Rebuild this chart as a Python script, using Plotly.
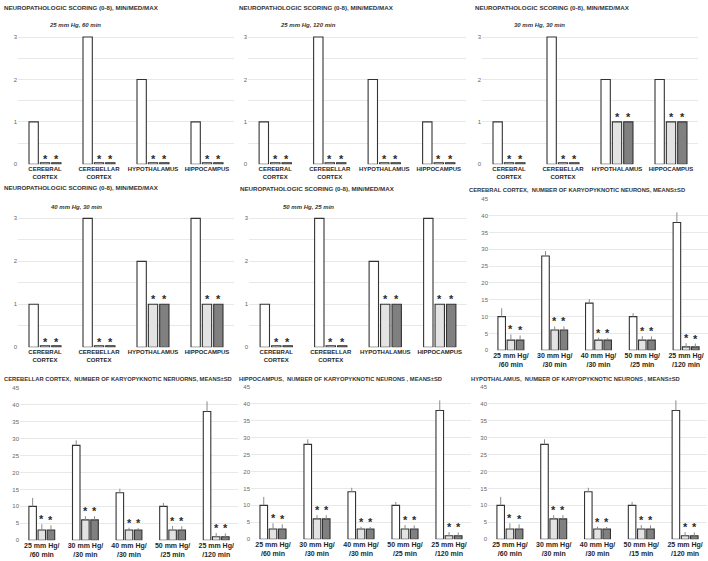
import plotly.graph_objects as go

W, H = 708, 561

# ---------------- data ----------------
NEURO_CATS = ["CEREBRAL<br>CORTEX", "CEREBELLAR<br>CORTEX", "HYPOTHALAMUS", "HIPPOCAMPUS"]

# Neuropathologic scoring medians (white = untreated, light = treated A, dark = treated B)
N1_WHITE = [1, 3, 2, 1]
N1_LIGHT = [0, 0, 0, 0]
N1_DARK = [0, 0, 0, 0]

N2_WHITE = [1, 3, 2, 1]
N2_LIGHT = [0, 0, 0, 0]
N2_DARK = [0, 0, 0, 0]

N3_WHITE = [1, 3, 2, 2]
N3_LIGHT = [0, 0, 1, 1]
N3_DARK = [0, 0, 1, 1]

N4_WHITE = [1, 3, 2, 3]
N4_LIGHT = [0, 0, 1, 1]
N4_DARK = [0, 0, 1, 1]

N5_WHITE = [1, 3, 2, 3]
N5_LIGHT = [0, 0, 1, 1]
N5_DARK = [0, 0, 1, 1]

NEURO_SUBTITLES = ["25 mm Hg, 60 min", "25 mm Hg, 120 min", "30 mm Hg, 30 min",
                   "40 mm Hg, 30 min", "50 mm Hg, 25 min"]

KARYO_CATS = ["25 mm Hg/<br>/60 min", "30 mm Hg/<br>/30 min", "40 mm Hg/<br>/30 min",
              "50 mm Hg/<br>/25 min", "25 mm Hg/<br>/120 min"]
KARYO_CATS_HYPO = ["25 mm Hg/<br>/60 min", "30 mm Hg/<br>/30 min", "40 mm Hg/<br>/30 min",
                   "50 mm Hg/<br>/15 min", "25 mm Hg/<br>/120 min"]

# Karyopyknotic neurons, means and SD (same in all four regions)
K_WHITE = [10, 28, 14, 10, 38]
K_WHITE_SD = [2.5, 1.5, 1.2, 1.0, 3.0]
K_LIGHT = [3, 6, 3, 3, 1]
K_LIGHT_SD = [1.7, 1.1, 0.7, 1.2, 1.1]
K_DARK = [3, 6, 3, 3, 1]
K_DARK_SD = [1.4, 1.1, 0.6, 1.1, 1.0]

TITLES = [
    "NEUROPATHOLOGIC SCORING (0-8), MIN/MED/MAX",
    "NEUROPATHOLOGIC SCORING (0-8), MIN/MED/MAX",
    "NEUROPATHOLOGIC SCORING (0-8), MIN/MED/MAX",
    "NEUROPATHOLOGIC SCORING (0-8), MIN/MED/MAX",
    "NEUROPATHOLOGIC SCORING (0-8), MIN/MED/MAX",
    "CEREBRAL CORTEX,\u00a0 NUMBER OF KARYOPYKNOTIC NEURONS, MEANS\u00b1SD",
    "CEREBELLAR CORTEX,\u00a0 NUMBER OF KARYOPYKNOTIC NERUORNS, MEANS\u00b1SD",
    "HIPPOCAMPUS,\u00a0 NUMBER OF KARYOPYKNOTIC NEURONS , MEANS\u00b1SD",
    "HYPOTHALAMUS,\u00a0 NUMBER OF KARYOPYKNOTIC NEURONS , MEANS\u00b1SD",
]

# ---------------- layout geometry (pixels) ----------------
PANELS = [  # x0, x1, y0(top), y1(bottom)
    (18, 234, 13, 163),
    (248, 466, 13, 163),
    (482, 698, 13, 163),
    (18, 234, 196, 348),
    (249, 467, 196, 348),
    (489, 708, 198, 351),
    (20, 238, 389, 543),
    (251, 471, 388, 542),
    (488, 707, 388, 542),
]
TITLE_POS = [(2, 5), (237, 5), (473, 5), (2, 187), (238, 188), (467, 189),
             (2, 380), (237, 380), (469, 380)]
SUB_POS = [(75, 22), (308, 22), (539, 22), (76, 206), (308, 206)]

BARGAP = 0.37
BARGROUPGAP = 0.18
ZERO_STUB = 0.035

FILL = ["#ffffff", "#e3e3e3", "#808080"]
EDGE = "#333333"
FONT = "Liberation Sans, Arial, sans-serif"

fig = go.Figure()
annotations = []

neuro_sets = [
    (N1_WHITE, N1_LIGHT, N1_DARK),
    (N2_WHITE, N2_LIGHT, N2_DARK),
    (N3_WHITE, N3_LIGHT, N3_DARK),
    (N4_WHITE, N4_LIGHT, N4_DARK),
    (N5_WHITE, N5_LIGHT, N5_DARK),
]
karyo_cats = [KARYO_CATS, KARYO_CATS, KARYO_CATS, KARYO_CATS_HYPO]

layout_axes = {}
for i, (x0, x1, y0, y1) in enumerate(PANELS):
    k = i + 1
    xs = "x" if k == 1 else f"x{k}"
    ys = "y" if k == 1 else f"y{k}"
    xa = "xaxis" if k == 1 else f"xaxis{k}"
    ya = "yaxis" if k == 1 else f"yaxis{k}"
    neuro = i < 5
    cats = NEURO_CATS if neuro else karyo_cats[i - 5]
    if neuro:
        series = neuro_sets[i]
        sds = [None, None, None]
    else:
        series = (K_WHITE, K_LIGHT, K_DARK)
        sds = [K_WHITE_SD, K_LIGHT_SD, K_DARK_SD]

    for s in range(3):
        vals = series[s]
        shown = [v if v > 0 else ZERO_STUB for v in vals]
        kw = {}
        if sds[s] is not None:
            kw["error_y"] = dict(type="data", array=sds[s], arrayminus=[0] * len(vals),
                                 symmetric=False, color="#8a8a8a", thickness=1, width=0)
        fig.add_trace(go.Bar(
            x=cats, y=shown, xaxis=xs, yaxis=ys, showlegend=False,
            marker=dict(color=FILL[s], line=dict(color=EDGE, width=1.1)),
            offsetgroup=str(s), hoverinfo="skip", **kw))

    # asterisks on treated groups
    cat_w = (x1 - x0) / len(cats)
    slot = cat_w * (1 - BARGAP) / 3
    for s in (1, 2):
        vals = series[s]
        for j, v in enumerate(vals):
            top = v + (sds[s][j] if sds[s] is not None else 0)
            annotations.append(dict(
                x=cats[j], y=top, xref=xs, yref=ys, text="*", showarrow=False,
                xshift=(s - 1) * slot, yshift=5, yanchor="middle",
                font=dict(family=FONT, size=11, color="#2a2a2a", weight="bold")))

    layout_axes[xa] = dict(
        domain=[x0 / W, x1 / W], anchor=ys, type="category", tickangle=0,
        showgrid=False, zeroline=False, showline=False, ticks="",
        tickfont=dict(family=FONT, size=6 if neuro else 7, color="#262626", weight="bold"),
        fixedrange=True)
    if neuro:
        ydict = dict(range=[0, 3.5], dtick=1, tick0=0,
                     minor=dict(dtick=0.5, tick0=0, showgrid=True, gridcolor="#e8e8e8", gridwidth=1))
    else:
        ydict = dict(range=[0, 45], dtick=5, tick0=0)
    layout_axes[ya] = dict(
        domain=[1 - y1 / H, 1 - y0 / H], anchor=xs, showgrid=True, gridcolor="#e8e8e8",
        gridwidth=1, zeroline=False, showline=False, ticks="",
        tickfont=dict(family=FONT, size=6, color="#666666"), fixedrange=True, **ydict)

    tx, ty = TITLE_POS[i]
    annotations.append(dict(
        x=tx / W, y=1 - ty / H, xref="paper", yref="paper", text=TITLES[i],
        showarrow=False, xanchor="left", yanchor="middle",
        font=dict(family=FONT, size=6.2 if neuro else 5.8, color="#333333", weight="bold")))
    if neuro:
        sx, sy = SUB_POS[i]
        annotations.append(dict(
            x=sx / W, y=1 - sy / H, xref="paper", yref="paper",
            text=f"<i>{NEURO_SUBTITLES[i]}</i>",
            showarrow=False, xanchor="center", yanchor="middle",
            font=dict(family=FONT, size=6, color="#333333", weight="bold")))

fig.update_layout(
    width=W, height=H, margin=dict(l=0, r=0, t=0, b=0),
    paper_bgcolor="white", plot_bgcolor="white",
    barmode="group", bargap=BARGAP, bargroupgap=BARGROUPGAP,
    annotations=annotations, **layout_axes)

fig.write_html("out.html", config={"displayModeBar": False},
               post_script="document.body.style.margin='0px';")
